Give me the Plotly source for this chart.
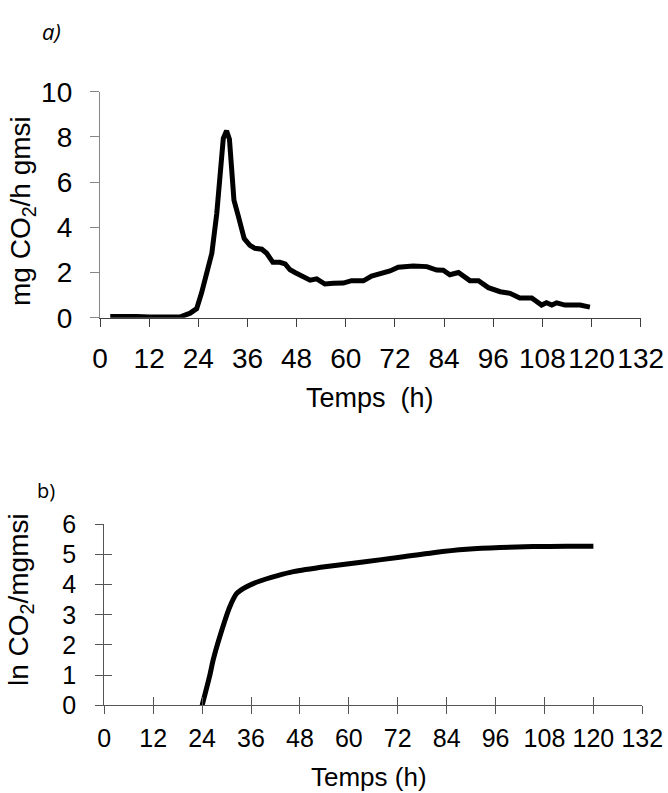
import plotly.graph_objects as go

# ---- data (a) CO2 production rate ----
time_a = [2.5, 5, 6.9, 8.9, 12, 16, 19.5, 22, 23.6, 24.8, 25.6, 27.3, 28.5, 29.3, 30.1, 30.9,
          31.6, 32.1, 32.7, 33.8, 35.2, 36.6, 37.8, 39.5, 40.7, 42.2, 43.9, 45.2, 46.4, 47.6,
          48.8, 50, 51.3, 52.9, 54.9, 57, 58.6, 59.4, 61.4, 64.3, 66.3, 68.4, 70.8, 72.8,
          76.5, 79.8, 82.2, 83.8, 85.4, 87.5, 90.3, 92.4, 94.8, 97.7, 100.1, 102.5, 105.4,
          107.8, 109, 110.3, 111.5, 113.5, 117.2, 119.6]
rate_a = [0.05, 0.05, 0.1, 0.05, 0.03, 0.02, 0.03, 0.2, 0.4, 1.1, 1.67, 2.85, 4.6, 6.4, 7.94, 8.27,
          7.9, 6.68, 5.2, 4.47, 3.5, 3.2, 3.07, 3.03, 2.85, 2.45, 2.45, 2.38, 2.12, 2.0,
          1.89, 1.78, 1.66, 1.72, 1.49, 1.52, 1.49, 1.53, 1.64, 1.63, 1.84, 1.93, 2.07, 2.23,
          2.29, 2.26, 2.11, 2.1, 1.9, 2.0, 1.64, 1.64, 1.33, 1.15, 1.08, 0.87, 0.87,
          0.56, 0.66, 0.56, 0.66, 0.56, 0.56, 0.47]

# ---- data (b) ln cumulative CO2 ----
time_b = [24, 25.9, 26.7, 28.5, 30.8, 32.5, 34.9, 38.2, 42.3, 46.4, 54.6, 63.5, 72.5, 80.7,
          88.9, 97.1, 105.2, 113.4, 120]
ln_b = [0, 1.0, 1.5, 2.35, 3.27, 3.71, 3.93, 4.12, 4.29, 4.43, 4.6, 4.75, 4.91, 5.06,
        5.17, 5.23, 5.26, 5.27, 5.27]

x_ticks = list(range(0, 133, 12))

W, H = 668, 793
FONT = "Liberation Sans, Arial, sans-serif"

fig = go.Figure()
fig.add_trace(go.Scatter(x=time_a, y=rate_a, mode="lines", xaxis="x", yaxis="y",
                         line=dict(color="black", width=5), showlegend=False, hoverinfo="skip"))
fig.add_trace(go.Scatter(x=time_b, y=ln_b, mode="lines", xaxis="x2", yaxis="y2",
                         line=dict(color="black", width=5, shape="spline", smoothing=0.6),
                         showlegend=False, hoverinfo="skip"))
# invisible trace for overlay axes (inside half of crossing ticks)
fig.add_trace(go.Scatter(x=time_b, y=ln_b, mode="lines", xaxis="x3", yaxis="y3",
                         line=dict(color="rgba(0,0,0,0)", width=0),
                         showlegend=False, hoverinfo="skip"))

def px_x(p):
    return p / W

def px_y(p):
    return 1 - p / H

fig.update_layout(
    width=W, height=H,
    margin=dict(l=0, r=0, t=0, b=0, autoexpand=False),
    paper_bgcolor="white", plot_bgcolor="white",
    font=dict(family=FONT, color="black"),
    xaxis=dict(domain=[px_x(100), px_x(640.7)], anchor="y", range=[0, 132],
               tickvals=x_ticks, ticks="outside", ticklen=8, tickwidth=1.3,
               tickcolor="#404040", showline=True, linecolor="#404040", linewidth=1.3,
               showgrid=False, zeroline=False, tickfont=dict(size=28),
               ticklabelstandoff=8, automargin=False),
    yaxis=dict(domain=[px_y(317.7), px_y(91.7)], anchor="x", range=[0, 10],
               dtick=2, ticks="outside", ticklen=9, tickwidth=1.3,
               tickcolor="#868686", showline=True, linecolor="#868686", linewidth=1.3,
               showgrid=False, zeroline=False, tickfont=dict(size=28),
               ticklabelstandoff=12, automargin=False),
    xaxis2=dict(domain=[px_x(104.3), px_x(642.3)], anchor="y2", range=[0, 132],
                tickvals=x_ticks, ticks="outside", ticklen=8, tickwidth=1.3,
                tickcolor="#555555", showline=True, linecolor="#555555", linewidth=1.3,
                showgrid=False, zeroline=False, tickfont=dict(size=25),
                ticklabelstandoff=3, automargin=False),
    yaxis2=dict(domain=[px_y(705.3), px_y(524.3)], anchor="x2", range=[0, 6],
                dtick=1, ticks="outside", ticklen=8, tickwidth=1.3,
                tickcolor="#555555", showline=True, linecolor="#555555", linewidth=1.3,
                showgrid=False, zeroline=False, tickfont=dict(size=25),
                ticklabelstandoff=14, automargin=False),
    xaxis3=dict(overlaying="x2", anchor="y3", side="bottom", range=[0, 132],
                tickvals=x_ticks, ticks="inside", ticklen=8, tickwidth=1.3,
                tickcolor="#555555", showticklabels=False, showline=False,
                showgrid=False, zeroline=False, automargin=False),
    yaxis3=dict(overlaying="y2", anchor="x3", side="left", range=[0, 6],
                dtick=1, ticks="inside", ticklen=8, tickwidth=1.3,
                tickcolor="#555555", showticklabels=False, showline=False,
                showgrid=False, zeroline=False, automargin=False),
)

ann = [
    dict(text="<i>a)</i>", x=px_x(51), y=px_y(31), font=dict(size=22, family="Open Sans, sans-serif")),
    dict(text="b)", x=px_x(46.5), y=px_y(490), font=dict(size=20, family="Open Sans, sans-serif")),
    dict(text="mg CO<sub>2</sub>/h gmsi", x=px_x(23), y=px_y(211), textangle=-90,
         font=dict(size=28, family=FONT)),
    dict(text="Temps\u00a0\u00a0(h)", x=px_x(370), y=px_y(398), font=dict(size=27, family=FONT)),
    dict(text="ln CO<sub>2</sub>/mgmsi", x=px_x(20), y=px_y(600), textangle=-90,
         font=dict(size=28, family=FONT)),
    dict(text="Temps (h)", x=px_x(369), y=px_y(777), font=dict(size=26, family=FONT)),
]
for a in ann:
    a.update(xref="paper", yref="paper", xanchor="center", yanchor="middle", showarrow=False)
fig.update_layout(annotations=ann)

fig.write_html("out.html", post_script="document.body.style.margin='0';",
               config={"displayModeBar": False})
